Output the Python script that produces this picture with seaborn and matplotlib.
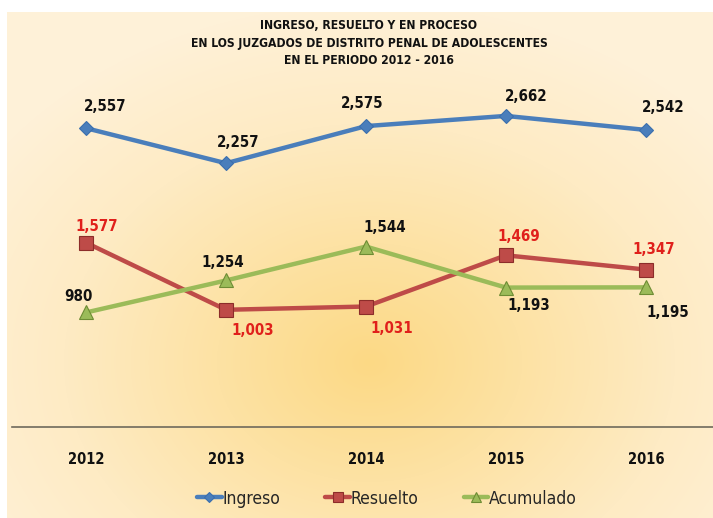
import numpy as np
import pandas as pd
import seaborn as sns
import matplotlib
matplotlib.use("Agg")
import matplotlib.pyplot as plt
from matplotlib.colors import LinearSegmentedColormap

# datos
anios = ["2012", "2013", "2014", "2015", "2016"]
ingreso = [2557, 2257, 2575, 2662, 2542]
resuelto = [1577, 1003, 1031, 1469, 1347]
acumulado = [980, 1254, 1544, 1193, 1195]

titulo = ("INGRESO, RESUELTO Y EN PROCESO\n"
          "EN LOS JUZGADOS DE DISTRITO PENAL DE ADOLESCENTES\n"
          "EN EL PERIODO 2012 - 2016")

sns.set_theme(style="white")
plt.rcParams['font.family'] = ['DejaVu Sans']
plt.rcParams['font.stretch'] = 'condensed'

fig = plt.figure(figsize=(7.13, 5.18), dpi=100)
fig.patch.set_facecolor("white")

# fondo con degradado radial
bg = fig.add_axes([7 / 713, 0, 706 / 713, 506 / 518])
bg.set_axis_off()
yy, xx = np.mgrid[0:506, 0:706]
r = np.sqrt(((xx - 362) / 460.0) ** 2 + ((yy - 350) / 360.0) ** 2)
r = np.clip(r, 0, 1)
cmap = LinearSegmentedColormap.from_list(
    "fondo", ["#FCD985", "#FDE2A4", "#FEEBC4", "#FEF1D8"])
bg.imshow(r, cmap=cmap, aspect="auto", vmin=0, vmax=1)

ax = fig.add_axes([12 / 713, 91 / 518, 701 / 713, 402 / 518])
ax.patch.set_alpha(0)

df = pd.DataFrame({"anio": anios, "Ingreso": ingreso,
                   "Resuelto": resuelto, "Acumulado": acumulado})

series = [
    ("Ingreso", "#4A7EBB", "D", "#3B6FAE", 7),
    ("Resuelto", "#BE4B48", "s", "#8C2D2A", 10),
    ("Acumulado", "#9BBB59", "^", "#6E8C34", 10),
]
for nombre, color, marker, borde, ms in series:
    sns.lineplot(data=df, x="anio", y=nombre, ax=ax, color=color,
                 linewidth=3.2, marker=marker, markersize=ms,
                 markerfacecolor=color, markeredgecolor=borde,
                 markeredgewidth=0.8, label=nombre)

# etiquetas de datos (desplazamientos en pixeles)
desp_ing = [(19, 22), (12, 21), (-4, 23), (20, 19), (17, 22)]
desp_res = [(11, 16), (27, -21), (26, -22), (13, 19), (8, 20)]
desp_acu = [(-8, 16), (-3, 18), (19, 19), (23, -18), (22, -25)]
for valores, desp, col in [(ingreso, desp_ing, "#111111"),
                           (resuelto, desp_res, "#E0201B"),
                           (acumulado, desp_acu, "#111111")]:
    for i, (v, d) in enumerate(zip(valores, desp)):
        ax.annotate(f"{v:,}", (i, v), xytext=d, textcoords="offset pixels",
                    ha="center", va="center", fontsize=10.8,
                    fontweight="bold", color=col)

ax.set_xlim(-0.529, 4.479)
ax.set_ylim(0, 3440)
ax.set_xlabel("")
ax.set_ylabel("")
ax.set_yticks([])
ax.set_xticks(range(len(anios)))
ax.set_xticklabels(anios, fontsize=10.5, fontweight="bold", color="#111111")
ax.tick_params(axis="x", length=0, pad=18)
for s in ["top", "left", "right"]:
    ax.spines[s].set_visible(False)
ax.spines["bottom"].set_color("#6F6A5C")
ax.spines["bottom"].set_linewidth(1.2)

ax.legend(loc="center", bbox_to_anchor=(375 / 701, -0.178), ncol=3,
          frameon=False, fontsize=12.5, handlelength=1.4, handletextpad=0.05,
          columnspacing=2.6, markerscale=0.7)

fig.text(369 / 713, 1 - 43 / 518, titulo, ha="center", va="center",
         fontsize=8.7, fontweight="bold", color="#111111", linespacing=1.45)

fig.savefig("out.png", dpi=100)
